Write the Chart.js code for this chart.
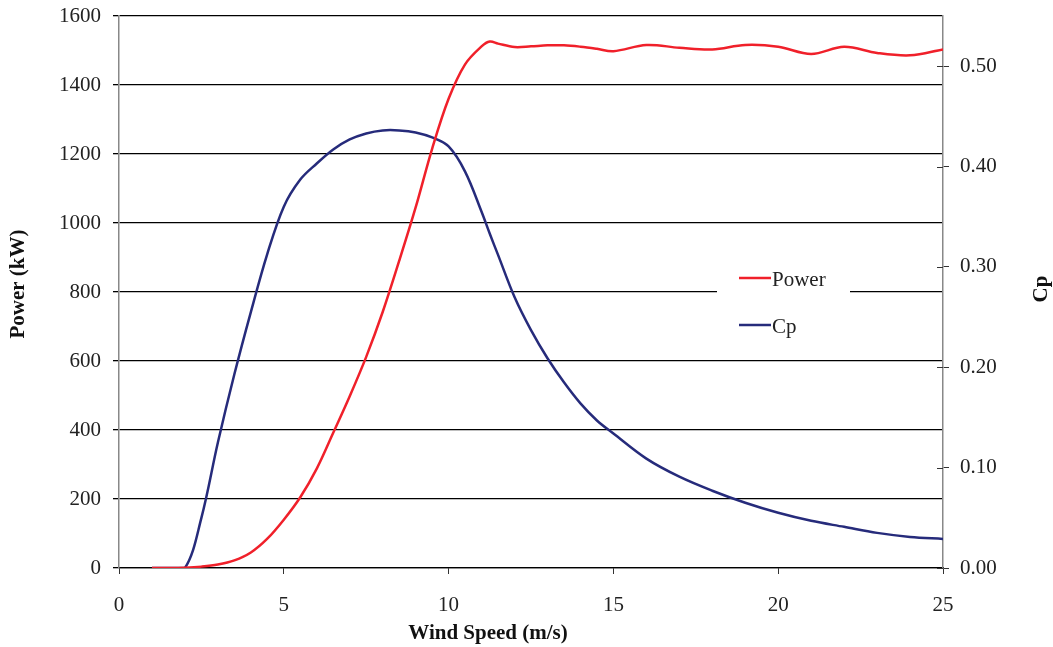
<!DOCTYPE html>
<html>
<head>
<meta charset="utf-8">
<script src="https://cdn.jsdelivr.net/npm/chart.js@4.4.1/dist/chart.umd.min.js"></script>
<style>
  html, body { margin: 0; padding: 0; background: #fff; }
  #wrap { width: 1053px; height: 647px; }
</style>
</head>
<body>
<div id="wrap"><canvas id="powerCurve"></canvas></div>
<script>
// data
const windSpeed = [1, 1.5, 2, 2.5, 3, 3.5, 4, 4.5, 5, 5.5, 6, 6.5, 7, 7.5, 8, 8.5, 9, 9.5, 10, 10.5,
  11, 11.25, 11.5, 12, 12.5, 13, 13.5, 14, 14.5, 15, 16, 17, 18, 19, 20, 21, 22, 23, 24, 25];
const powerKW = [0, 0, 1, 4, 10, 22, 45, 85, 140, 205, 288, 392, 498, 612, 742, 890, 1045, 1215, 1360, 1460,
  1512, 1526, 1520, 1510, 1512, 1515, 1515, 1511, 1505, 1498, 1516, 1508, 1503, 1516, 1511, 1490, 1511, 1493, 1486, 1503];
const cpValues = [0, 0, 0, 0.05, 0.125, 0.193, 0.255, 0.313, 0.36, 0.387, 0.403, 0.417, 0.427, 0.433, 0.436, 0.436, 0.434, 0.429, 0.42, 0.395,
  0.355, 0.333, 0.312, 0.27, 0.237, 0.209, 0.185, 0.164, 0.147, 0.134, 0.109, 0.091, 0.077, 0.065, 0.055, 0.047, 0.041, 0.035, 0.031, 0.029];
const speedTicks = [0, 5, 10, 15, 20, 25];
const powerTicks = [0, 200, 400, 600, 800, 1000, 1200, 1400, 1600];
const cpTicks = [0, 0.1, 0.2, 0.3, 0.4, 0.5];

const serif = "'Liberation Serif', 'Times New Roman', serif";

// legend on a white box, axis titles where the original puts them
const boxLegend = {
  id: "boxLegend",
  afterDraw(chart) {
    const ctx = chart.ctx;
    ctx.save();
    ctx.fillStyle = "#fff";
    ctx.fillRect(717, 250, 133, 90);
    ctx.font = "21px " + serif;
    ctx.textBaseline = "middle";
    chart.data.datasets.forEach((ds, i) => {
      const y = 278 + i * 47;
      ctx.strokeStyle = ds.borderColor;
      ctx.lineWidth = 2.5;
      ctx.beginPath();
      ctx.moveTo(739, y);
      ctx.lineTo(771, y);
      ctx.stroke();
      ctx.fillStyle = "#222";
      ctx.fillText(ds.label, 772, y + 2);
    });

    // inner half of the right axis ticks
    const y2 = chart.scales.y2;
    ctx.strokeStyle = "#333";
    ctx.lineWidth = 1;
    y2.ticks.forEach((t) => {
      const py = Math.round(y2.getPixelForValue(t.value)) + 0.5;
      ctx.beginPath();
      ctx.moveTo(y2.left - 6, py);
      ctx.lineTo(y2.left, py);
      ctx.stroke();
    });

    ctx.fillStyle = "#111";
    ctx.textAlign = "center";
    ctx.font = "bold 21px " + serif;
    ctx.fillText("Wind Speed (m/s)", 488, 634);

    ctx.save();
    ctx.translate(19, 284);
    ctx.rotate(-Math.PI / 2);
    ctx.fillText("Power (kW)", 0, 0);
    ctx.restore();

    ctx.translate(1042, 289);
    ctx.rotate(-Math.PI / 2);
    ctx.fillText("Cp", 0, 0);
    ctx.restore();
  },
};

const noPad = (s) => {
  s.paddingTop = 0;
  s.paddingBottom = 0;
};

const curveConfig = {
  type: "line",
  data: {
    datasets: [
      {
        label: "Power",
        data: windSpeed.map((v, i) => ({ x: v, y: powerKW[i] })),
        borderColor: "#f0202a",
        borderWidth: 2.5,
        pointRadius: 0,
        tension: 0.35,
        yAxisID: "y",
      },
      {
        label: "Cp",
        data: windSpeed.map((v, i) => ({ x: v, y: cpValues[i] })),
        borderColor: "#262b7b",
        borderWidth: 2.5,
        pointRadius: 0,
        tension: 0.35,
        yAxisID: "y2",
      },
    ],
  },
  options: {
    responsive: true,
    maintainAspectRatio: false,
    animation: false,
    layout: { padding: { top: 16, left: 0, right: 0, bottom: 0 } },
    plugins: {
      legend: { display: false },
      tooltip: { enabled: false },
    },
    scales: {
      x: {
        type: "linear",
        min: 0,
        max: 25,
        afterBuildTicks: (s) => { s.ticks = speedTicks.map((v) => ({ value: v })); },
        grid: { drawOnChartArea: false, drawTicks: true, tickLength: 6, color: "#333" },
        border: { color: "#000", width: 1.3 },
        ticks: { font: { family: serif, size: 21 }, color: "#222", padding: 19, maxRotation: 0 },
        afterFit: (s) => {
          s.height = 79;
          s.paddingLeft = 0;
          s.paddingRight = 0;
        },
      },
      y: {
        position: "left",
        min: 0,
        max: 1600,
        afterBuildTicks: (s) => { s.ticks = powerTicks.map((v) => ({ value: v })); },
        grid: { color: "#000", lineWidth: 1.3, tickLength: 6 },
        border: { color: "#888", width: 1.5 },
        ticks: {
          font: { family: serif, size: 21 },
          color: "#222",
          padding: 12,
          callback: (v) => String(v),
        },
        afterFit: (s) => {
          s.width = 119;
          noPad(s);
        },
      },
      y2: {
        position: "right",
        min: 0,
        max: 0.55,
        afterBuildTicks: (s) => { s.ticks = cpTicks.map((v) => ({ value: v })); },
        grid: { drawOnChartArea: false, tickLength: 6, color: "#333" },
        border: { color: "#888", width: 1.5 },
        ticks: {
          font: { family: serif, size: 21 },
          color: "#222",
          padding: 11,
          callback: (v) => v.toFixed(2),
        },
        afterFit: (s) => {
          s.width = 110;
          noPad(s);
        },
      },
    },
  },
  plugins: [boxLegend],
};

const powerChart = new Chart(document.getElementById("powerCurve"), curveConfig);
</script>
</body>
</html>
